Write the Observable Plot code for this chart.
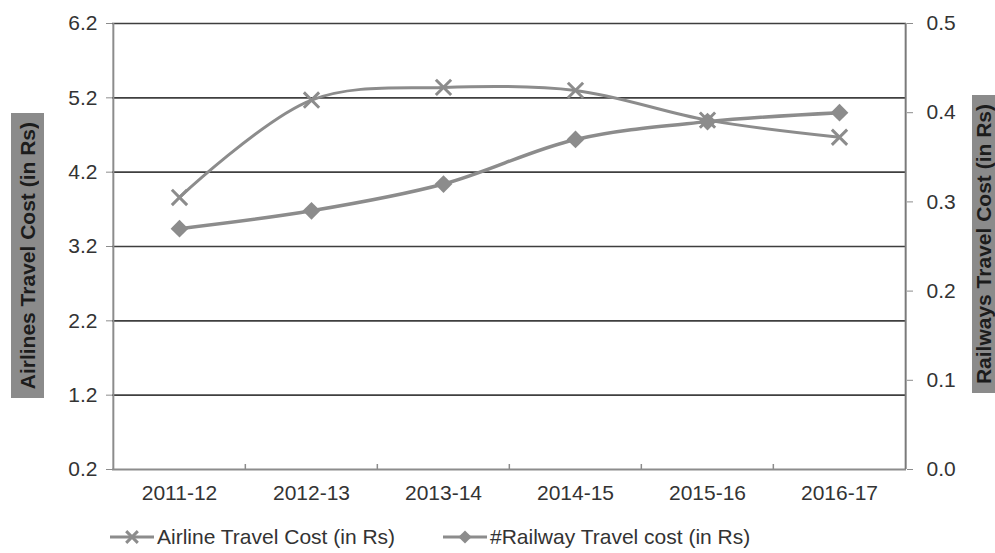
<!DOCTYPE html>
<html>
<head>
<meta charset="utf-8">
<script src="https://cdn.jsdelivr.net/npm/d3@7"></script>
<script src="https://cdn.jsdelivr.net/npm/@observablehq/plot@0.6"></script>
<style>
  html, body { margin: 0; padding: 0; background: #fff; overflow: hidden; }
  #wrap { position: relative; width: 995px; height: 553px; overflow: hidden; font-family: "Liberation Sans", Arial, sans-serif; }
  .ytitle {
    position: absolute; background: #8b8b8b; color: #1c1c1c;
    font-weight: bold; font-size: 21px; line-height: 1; display: flex; align-items: center; justify-content: center;
  }
  .ytitle span { writing-mode: vertical-rl; transform: rotate(180deg); white-space: nowrap; }
  #legend { position: relative; height: 33px; font-size: 21px; color: #333; }
  .item { position: absolute; top: 0; height: 33px; display: flex; align-items: center; }
  .item svg { display: block; }
  .item span { margin-left: 3px; white-space: nowrap; }
</style>
</head>
<body>
<div id="wrap">
  <div id="chart"></div>
  <div id="legend"></div>
  <div class="ytitle" style="left:11px; top:113px; width:33px; height:285px;"><span>Airlines Travel Cost (in Rs)</span></div>
  <div class="ytitle" style="left:972px; top:95px; width:23px; height:298px;"><span>Railways Travel Cost (in Rs)</span></div>
</div>
<script>
// Fiscal years on the x axis
const years = ["2011-12", "2012-13", "2013-14", "2014-15", "2015-16", "2016-17"];
// Airline travel cost (left axis, Rs)
const airline = [3.86, 5.17, 5.34, 5.30, 4.90, 4.67];
// Railway travel cost (right axis, Rs)
const railway = [0.27, 0.29, 0.32, 0.37, 0.39, 0.40];
// Axis ticks
const leftTicks = [0.2, 1.2, 2.2, 3.2, 4.2, 5.2, 6.2];
const rightTicks = [0.0, 0.1, 0.2, 0.3, 0.4, 0.5];

const airlineName = "Airline Travel Cost (in Rs)";
const railwayName = "#Railway Travel cost (in Rs)";

const grey = "#8c8c8c";
const width = 995, height = 520;
const marginLeft = 112, marginRight = 89, marginTop = 23, marginBottom = 51;

// Right axis values share the left scale: 0 → 0.2 and 0.5 → 6.2
const yMin = leftTicks[0], yMax = leftTicks[leftTicks.length - 1];
const rMin = rightTicks[0], rMax = rightTicks[rightTicks.length - 1];
const toLeft = (r) => yMin + (r - rMin) * (yMax - yMin) / (rMax - rMin);
const toRight = (y) => rMin + (y - yMin) * (rMax - rMin) / (yMax - yMin);

const airRows = years.map((year, i) => ({year, value: airline[i]}));
const railRows = years.map((year, i) => ({year, value: railway[i]}));

// Half of a category step, used to put rules on category boundaries
const step = (width - marginLeft - marginRight) / years.length;
const half = step / 2;
const pxPerUnit = (height - marginTop - marginBottom) / (yMax - yMin);
const tickLen = 5;

const chart = Plot.plot({
  width, height, marginLeft, marginRight, marginTop, marginBottom,
  style: {fontFamily: "Liberation Sans, Arial, sans-serif", fontSize: "21px", color: "#333", background: "white", overflow: "visible"},
  x: {type: "point", domain: years, padding: 0.5},
  y: {domain: [yMin, yMax]},
  marks: [
    // horizontal grid
    Plot.ruleY(leftTicks.slice(1), {stroke: "#3f3f3f", strokeWidth: 1.6}),
    Plot.ruleY([yMin], {stroke: grey, strokeWidth: 2}),
    // left and right axis lines
    Plot.ruleX([years[0]], {dx: -half, y1: yMin, y2: yMax, stroke: grey, strokeWidth: 2}),
    Plot.ruleX([years[years.length - 1]], {dx: half, y1: yMin, y2: yMax, stroke: "#7a7a7a", strokeWidth: 2}),
    // category separator ticks on the x axis
    Plot.ruleX(years.slice(1), {dx: -half, y1: yMin, y2: yMin + tickLen / pxPerUnit, stroke: grey, strokeWidth: 1.5}),
    Plot.axisY(leftTicks, {anchor: "left", tickSize: 6, tickPadding: 9, stroke: grey, fill: "#333", tickFormat: (d) => d.toFixed(1), label: null}),
    Plot.axisY(rightTicks.map(toLeft), {anchor: "right", tickSize: 6, tickPadding: 14, stroke: grey, fill: "#333", tickFormat: (d) => toRight(d).toFixed(1), label: null}),
    Plot.axisX({tickSize: 0, tickPadding: 16, fill: "#333", label: null}),
    // series
    Plot.line(airRows, {x: "year", y: "value", curve: "catmull-rom", stroke: grey, strokeWidth: 3}),
    Plot.dot(airRows, {x: "year", y: "value", symbol: "times", r: 7, stroke: grey, strokeWidth: 3}),
    Plot.line(railRows, {x: "year", y: (d) => toLeft(d.value), curve: "catmull-rom", stroke: grey, strokeWidth: 3.5}),
    Plot.dot(railRows, {x: "year", y: (d) => toLeft(d.value), symbol: "diamond2", r: 8, fill: grey, stroke: "none"})
  ]
});
document.getElementById("chart").appendChild(chart);

// Legend below the chart
const legend = d3.select("#legend");
const items = [
  {name: airlineName, symbol: d3.symbolTimes, left: 110, filled: false, size: 90},
  {name: railwayName, symbol: d3.symbolDiamond2, left: 443, filled: true, size: 110}
];
for (const it of items) {
  const div = legend.append("div").attr("class", "item").style("left", it.left + "px");
  const svg = div.append("svg").attr("width", 44).attr("height", 20);
  svg.append("line").attr("x1", 0).attr("x2", 44).attr("y1", 10).attr("y2", 10)
    .attr("stroke", grey).attr("stroke-width", 3);
  svg.append("path").attr("transform", "translate(22,10)")
    .attr("d", d3.symbol(it.symbol, it.size)())
    .attr("fill", it.filled ? grey : "none")
    .attr("stroke", it.filled ? "none" : grey)
    .attr("stroke-width", 3);
  div.append("span").text(it.name);
}
</script>
</body>
</html>
